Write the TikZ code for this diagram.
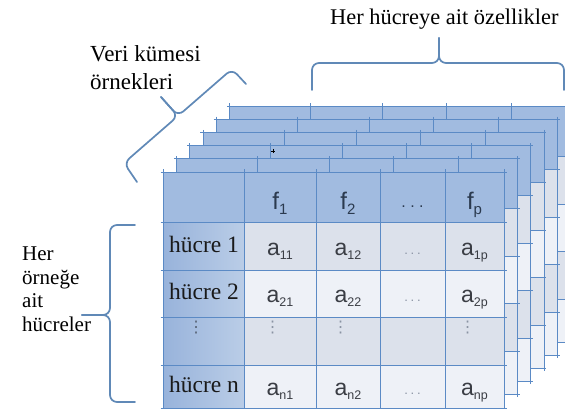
\documentclass[tikz,border=0pt]{standalone}
\usepackage{fontspec}
\setmainfont{Liberation Serif}
\newfontfamily\sansf{Liberation Sans}
\newfontfamily\dejavu{DejaVu Sans}
\definecolor{hdr}{HTML}{A1BBE0}
\definecolor{gridc}{HTML}{5B8AC5}
\definecolor{colL}{HTML}{98B3DB}
\definecolor{colR}{HTML}{BACDE7}
\definecolor{rowA}{HTML}{DCE1EB}
\definecolor{rowB}{HTML}{EEF1F7}
\definecolor{brc}{HTML}{6089B7}
\definecolor{ftxt}{HTML}{2B3A4F}
\definecolor{atxt}{HTML}{3A3D44}
\definecolor{dotc}{HTML}{8A93A3}
\newcommand\hdd[1]{.\kern#1.\kern#1.}
\newcommand\subx[1]{\raisebox{-4pt}{\fontsize{12.5}{12.5}\selectfont #1}}
\newcommand\subf[1]{\raisebox{-5pt}{\fontsize{15}{15}\selectfont #1}}
\begin{document}
\begin{tikzpicture}[x=1pt,y=-1pt,
  gridline/.style={draw=gridc,line width=0.8pt},
  bracestyle/.style={draw=brc,line width=1.7pt,rounded corners=7pt,line cap=round,line join=round},
  lbl/.style={font=\fontsize{23}{26}\selectfont, text=black, inner sep=0pt, anchor=base west},
  toplbl/.style={font=\fontsize{22.4}{26}\selectfont, text=black, inner sep=0pt, anchor=base west},
  sidelbl/.style={font=\fontsize{21}{24}\selectfont, text=black, inner sep=0pt, anchor=base west},
  rowlbl/.style={font=\fontsize{23.5}{26}\selectfont, text=black!90, inner sep=0pt, anchor=base},
  feat/.style={font=\sansf\fontsize{24}{26}\selectfont, text=ftxt, inner sep=0pt, anchor=base},
  cellv/.style={font=\sansf\fontsize{23}{24}\selectfont, text=atxt, inner sep=0pt, anchor=base},
  hdots/.style={font=\sansf\fontsize{13}{13}\selectfont, text=dotc, inner sep=0pt, anchor=base},
  vdots/.style={font=\dejavu\fontsize{16}{16}\selectfont, text=dotc, inner sep=0pt, anchor=center},
]
\useasboundingbox (0,0) rectangle (565,409);
\clip (0,0) rectangle (565,409);
\fill[white] (0,0) rectangle (565,409);
% stacked tables, back to front
\foreach \k in {5,4,3,2,1,0}{
 \begin{scope}[shift={({13.3*\k},{-13.2*\k})}]
  \fill[hdr] (163,172) rectangle (504,222);
  \fill[left color=colL,right color=colR] (163,222) rectangle (244,408);
  \fill[rowA] (244,222) rectangle (504,270);
  \fill[rowB] (244,270) rectangle (504,317);
  \fill[rowA] (244,317) rectangle (504,365);
  \fill[rowB] (244,365) rectangle (504,408);
  \foreach \yy in {172,222,270,317,365,408} \draw[gridline] (160.5,\yy) -- (506.5,\yy);
  \foreach \xx in {163,244,316,380,445,504} \draw[gridline] (\xx,169.5) -- (\xx,410.5);
 \end{scope}}
% small mark
\draw[black,line width=0.6pt] (271,151) -- (275,151) (273,149) -- (273,153);
% header texts
\node[feat] (f1) at (280,209) {f\subf{1}};
\node[feat] (f2) at (348,209) {f\subf{2}};
\node[hdots,font=\sansf\fontsize{16}{16}\selectfont,text=ftxt] (fd) at (412.5,207) {\hdd{4.5pt}};
\node[feat] (fp) at (474.5,209) {f\subf{p}};
% row labels
\node[rowlbl] (h1) at (204,252) {hücre 1};
\node[rowlbl] (h2) at (204,299.5) {hücre 2};
\node[vdots,text=ftxt!80] (hv) at (196,328) {⋮};
\node[rowlbl] (hn) at (204,392.5) {hücre n};
% cells
\node[cellv] (a11) at (280,255) {a\subx{11}};
\node[cellv] (a12) at (348,255) {a\subx{12}};
\node[hdots] (a1d) at (412.5,254) {\hdd{2.8pt}};
\node[cellv] (a1p) at (474.5,255) {a\subx{1p}};
\node[cellv] (a21) at (280,302.5) {a\subx{21}};
\node[cellv] (a22) at (348,302.5) {a\subx{22}};
\node[hdots] (a2d) at (412.5,301.5) {\hdd{2.8pt}};
\node[cellv] (a2p) at (474.5,302.5) {a\subx{2p}};
\node[vdots] (v1) at (272.5,328) {⋮};
\node[vdots] (v2) at (340.5,328) {⋮};
\node[vdots] (vp) at (467.5,328) {⋮};
\node[cellv] (an1) at (280,395.5) {a\subx{n1}};
\node[cellv] (an2) at (348,395.5) {a\subx{n2}};
\node[hdots] (and) at (412.5,394.5) {\hdd{2.8pt}};
\node[cellv] (anp) at (474.5,395.5) {a\subx{np}};
% outer labels
\node[toplbl] (top) at (330,25) {Her hücreye ait özellikler};
\node[lbl] (vk1) at (90,62) {Veri kümesi};
\node[lbl] (vk2) at (90,90) {örnekleri};
\node[sidelbl] (s1) at (22,260) {Her};
\node[sidelbl] (s2) at (22,284) {örneğe};
\node[sidelbl] (s3) at (22,307) {ait};
\node[sidelbl] (s4) at (22,331) {hücreler};
% braces
\draw[bracestyle] (312,90) -- (312,63) -- (439,63) -- (439,38);
\draw[bracestyle] (439,38) -- (439,63) -- (564,63) -- (564,90);
\draw[bracestyle] (246,84) -- (232,69) -- (178,116) -- (161,97);
\draw[bracestyle] (161,97) -- (178,116) -- (124,163) -- (137,182);
\draw[bracestyle] (135,225) -- (110,225) -- (110,315) -- (82,315);
\draw[bracestyle] (82,315) -- (110,315) -- (110,402) -- (135,402);
\end{tikzpicture}
\end{document}
